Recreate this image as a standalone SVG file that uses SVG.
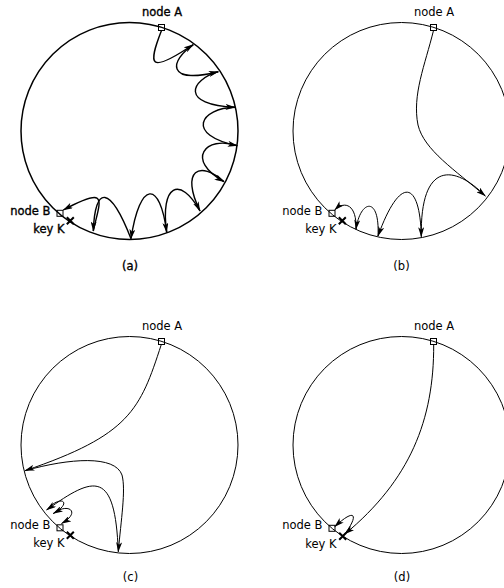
<svg xmlns="http://www.w3.org/2000/svg" width="504" height="588" viewBox="0 0 504 588">
<style>
.ring{fill:none;stroke:#000;stroke-width:1}
.bold .ring{stroke-width:1.5}
.edge{fill:none;stroke:#000;stroke-width:1;marker-end:url(#arr)}
.bold .edge{stroke-width:1.4;marker-end:url(#arrb)}
.sq{fill:none;stroke:#000;stroke-width:1}
.key{stroke:#000;stroke-width:2;fill:none}
text{font-family:"DejaVu Sans",sans-serif;font-size:11.5px;fill:#000;stroke:none}
.bold text{stroke:#000;stroke-width:0.35}
.mid{text-anchor:middle}
.end{text-anchor:end}
</style>
<defs>
<marker id="arr" viewBox="0 0 10 6" refX="9.5" refY="3" markerWidth="10" markerHeight="6" markerUnits="userSpaceOnUse" orient="auto">
<path d="M0,0 L10,3 L0,6 L2.5,3 z" fill="#000"/>
</marker>
<marker id="arrb" viewBox="0 0 10 6" refX="9.5" refY="3" markerWidth="10" markerHeight="6" markerUnits="userSpaceOnUse" orient="auto">
<path d="M0,0 L10,3 L0,6 L2.5,3 z" fill="#000"/>
</marker>
</defs>

<!-- panel (a) -->
<g id="panel-a" class="bold">
<g id="a-ring"><circle class="ring" cx="129.5" cy="131" r="108.5"/></g>
<g id="a-connectors">
<path class="edge" d="M161.5,30.5 C148,65 148,75 193.3,44.5"/>
<path class="edge" d="M193.3,45 C170,60 165,85 218.3,71.7"/>
<path class="edge" d="M218.3,71.7 C190,80 180,105 235,107.3"/>
<path class="edge" d="M235,107.3 C200,108 185,135 237.3,145.7"/>
<path class="edge" d="M237.3,145.7 C205,135 185,160 224,181.7"/>
<path class="edge" d="M224,181.7 C200,160 180,170 200,211"/>
<path class="edge" d="M200,211 C180,175 160,185 166.7,232.3"/>
<path class="edge" d="M166.7,232.3 C160,180 140,180 131,238.7"/>
<path class="edge" d="M131,238.7 C110,185 95,185 93.3,231"/>
<path class="edge" d="M93.3,231 C100,200 110,185 63.3,210"/>
</g>
<g id="a-nodeA"><rect class="sq" x="158.5" y="24.5" width="6" height="6"/><text class="mid" x="162" y="16">node A</text></g>
<g id="a-nodeB"><rect class="sq" x="57" y="210.3" width="6" height="6"/><text class="end" x="50.5" y="215">node B</text></g>
<g id="a-keyK"><path class="key" d="M66.8,217.2 L73.8,224.2 M73.8,217.2 L66.8,224.2"/><text class="end" x="64.5" y="233">key K</text></g>
<text class="mid" x="130" y="270">(a)</text>
</g>

<!-- panel (b) -->
<g id="panel-b" transform="translate(272,0)">
<g id="b-ring"><circle class="ring" cx="129.5" cy="131" r="108.5"/></g>
<g id="b-connectors">
<path class="edge" d="M161.5,30.5 C153,65 140,95 146,125 C152,150 183,170 213.3,196"/>
<path class="edge" d="M213.3,196 C183,165 148,160 149.3,236.7"/>
<path class="edge" d="M149.3,236.7 C148,180 128,175 106,236"/>
<path class="edge" d="M106,236 C108,195 88,200 84,229.3"/>
<path class="edge" d="M84,229.3 C85,205 73,200 62.7,210"/>
</g>
<g id="b-nodeA"><rect class="sq" x="158.5" y="24.5" width="6" height="6"/><text class="mid" x="162" y="16">node A</text></g>
<g id="b-nodeB"><rect class="sq" x="57" y="210.3" width="6" height="6"/><text class="end" x="50.5" y="215">node B</text></g>
<g id="b-keyK"><path class="key" d="M66.8,217.2 L73.8,224.2 M73.8,217.2 L66.8,224.2"/><text class="end" x="64.5" y="233">key K</text></g>
<text class="mid" x="129.5" y="270">(b)</text>
</g>

<!-- panel (c) -->
<g id="panel-c" transform="translate(0,314)">
<g id="c-ring"><circle class="ring" cx="129.5" cy="131" r="108.5"/></g>
<g id="c-connectors">
<path class="edge" d="M161.3,30.5 C140,96 130,121 25,156.7"/>
<path class="edge" d="M25,156.7 C70,144 115,141 122,161 C126,176 121,206 118.3,237.7"/>
<path class="edge" d="M118.3,237.7 C115,156 95,161 46.7,196"/>
<path class="edge" d="M46.7,196 C60,180 74,188 53.3,199.5"/>
<path class="edge" d="M53.3,199.5 C68,188 82,198 61.5,209.5"/>
</g>
<g id="c-nodeA"><rect class="sq" x="158.5" y="24.5" width="6" height="6"/><text class="mid" x="162" y="16">node A</text></g>
<g id="c-nodeB"><rect class="sq" x="57" y="210.8" width="6" height="6"/><text class="end" x="50.5" y="215">node B</text></g>
<g id="c-keyK"><path class="key" d="M66.8,217.7 L73.8,224.7 M73.8,217.7 L66.8,224.7"/><text class="end" x="64.5" y="233">key K</text></g>
<text class="mid" x="130.5" y="267">(c)</text>
</g>

<!-- panel (d) -->
<g id="panel-d" transform="translate(272,314)">
<g id="d-ring"><circle class="ring" cx="129.5" cy="131" r="108.5"/></g>
<g id="d-connectors">
<path class="edge" d="M161.7,30.5 C162,106 138,166 73,220"/>
<path class="edge" d="M71,222 C86,204 86,191 62.7,212.7"/>
</g>
<g id="d-nodeA"><rect class="sq" x="158.5" y="24.5" width="6" height="6"/><text class="mid" x="162" y="16">node A</text></g>
<g id="d-nodeB"><rect class="sq" x="57" y="211.3" width="6" height="6"/><text class="end" x="50.5" y="215">node B</text></g>
<g id="d-keyK"><path class="key" d="M67.2,218.8 L74.2,225.8 M74.2,218.8 L67.2,225.8"/><text class="end" x="64.5" y="234">key K</text></g>
<text class="mid" x="130" y="267">(d)</text>
</g>
</svg>
